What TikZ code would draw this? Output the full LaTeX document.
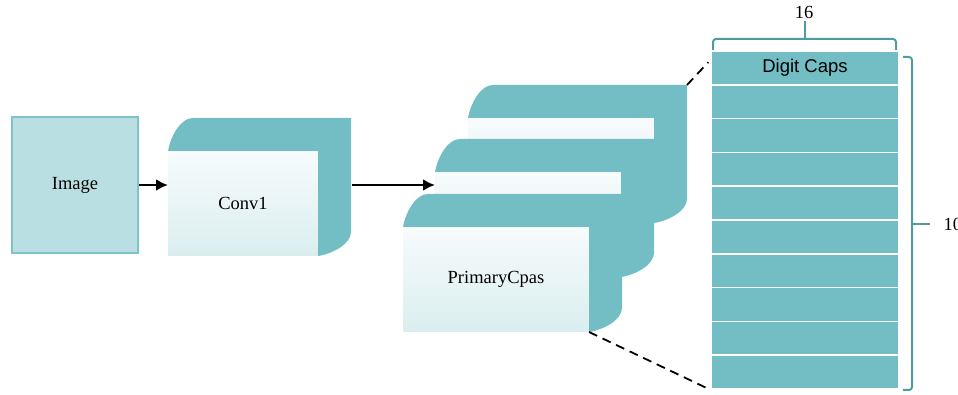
\documentclass[tikz,border=0pt]{standalone}
\usepackage{fontspec}
\setmainfont{Liberation Serif}
\newfontfamily\capsfont{Liberation Sans}
\usepackage{tikz}
\usetikzlibrary{arrows.meta, calc, positioning}
\definecolor{capsteal}{RGB}{114,190,196}
\definecolor{imgfill}{RGB}{186,223,227}
\definecolor{imgline}{RGB}{125,195,200}
\definecolor{facetop}{RGB}{247,251,252}
\definecolor{facebot}{RGB}{218,238,239}
\definecolor{bracecol}{RGB}{78,156,161}
\def\dep{33}
% teal top and side of a block, drawn round its front face
\newcommand{\extrude}[1]{%
  \fill[capsteal] (#1.north west) .. controls +(3,16) and +(-12,0) .. ($(#1.north west)+(25,\dep)$)
    -- ($(#1.north east)+(\dep,\dep)$) -- ($(#1.south east)+(\dep,24)$)
    .. controls +(0,-12) and +(14,2) .. (#1.south east) -- (#1.north east) -- cycle;}

\begin{document}
\begin{tikzpicture}[x=1pt, y=1pt,
  lbl/.style={font=\fontsize{18.5}{22}\selectfont},
  face/.style={lbl, inner sep=0pt, outer sep=0pt, minimum height=105, top color=facetop, bottom color=facebot},
  caprow/.style={draw=white, line width=1.5pt, fill=capsteal, minimum width=188, minimum height=33.8, inner sep=0pt},
  arr/.style={line width=2.8pt, -{Latex[length=12pt,width=12pt]}},
  dashline/.style={line width=1.8pt, dash pattern=on 9pt off 6pt},
  brace/.style={bracecol, line width=2pt, rounded corners=3pt}]
\useasboundingbox (0,0) rectangle (958,395);

% input
\node[lbl, draw=imgline, line width=2pt, fill=imgfill, minimum width=126, minimum height=136] (img) at (75,210) {Image};

% conv layer
\node[face, minimum width=150] (conv) at (243,191.5) {Conv1};
\extrude{conv}

% primary capsules, back to front
\node[face, minimum width=186] (back) at (561,224.5) {};
\extrude{back}
\node[face, minimum width=186] (mid) at (528,170.5) {};
\extrude{mid}
\node[face, minimum width=186] (front) at (496,115.5) {PrimaryCpas};
\extrude{front}

\draw[arr] (img.east) -- (img.east -| conv.west);
\coordinate (convout) at ($(conv.east |- img.east)+(\dep+1,0)$);
\draw[arr] (convout) -- (convout -| mid.west);

% digit capsules
\foreach \i in {0,...,9}
  \node[caprow] (row\i) at (805,327.1-33.8*\i) {};
\node[lbl, font=\capsfont\fontsize{18.5}{22}\selectfont] (capname) at (row0) {Digit Caps};

\coordinate (backtip) at ($(back.north east)+(\dep,\dep)$);
\coordinate (captop) at ($(row0.north west)+(-2,-12)$);
\draw[dashline] (backtip) -- (captop);
\draw[dashline] (front.south east) -- (row9.south west);

% sizes
\draw[brace] (713,345) -- (713,356) -- (896,356) -- (896,345);
\node[lbl] (nw) at (804,383) {16};
\draw[brace] (804.5,356) -- (804.5,374);
\draw[brace] (903,338) -- (912,338) -- (912,5) -- (903,5);
\node[lbl, anchor=west] (nh) at (940,171) {10};
\draw[brace] (912,171) -- (930,171);
\end{tikzpicture}
\end{document}
